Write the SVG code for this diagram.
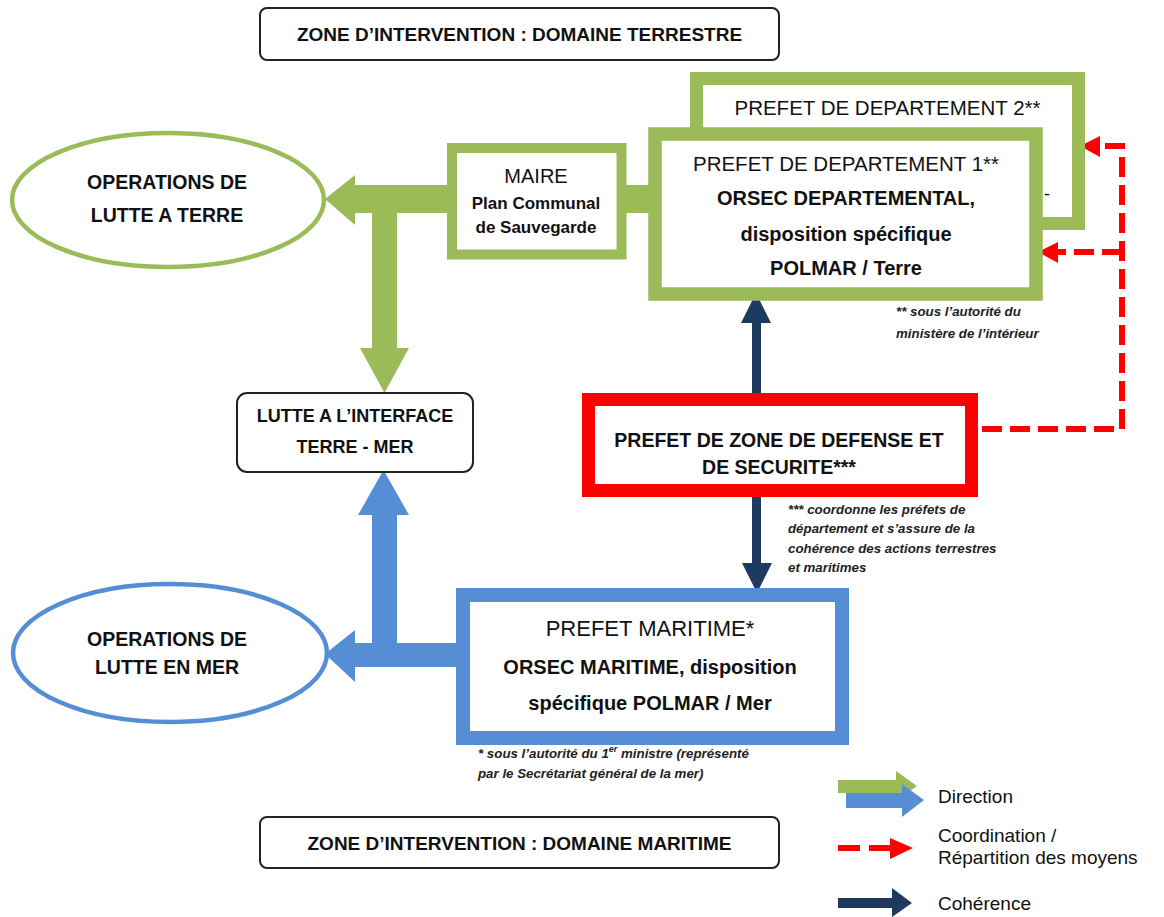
<svg xmlns="http://www.w3.org/2000/svg" width="1164" height="917" viewBox="0 0 1164 917">
<style>
text{font-family:"Liberation Sans",Arial,sans-serif;fill:#111;text-anchor:middle}
.b{font-weight:bold}
.n{font-weight:normal}
.fn{font-weight:bold;font-style:italic;font-size:13.3px;text-anchor:start;fill:#222}
.lg{font-size:19px;text-anchor:start}
.zone{fill:#fff;stroke:#222;stroke-width:2}
.g{fill:#9BBB59}
.bl{fill:#558ED5}
.nv{fill:#1F3A60}
.rd{fill:#FF0000}
.dash{fill:none;stroke:#FF0000;stroke-width:6;stroke-dasharray:20 8}
</style>

<g id="zone-terrestre">
<rect class="zone" x="260" y="8" width="519" height="52" rx="7"/>
<text class="b" x="519.5" y="41" font-size="19">ZONE D’INTERVENTION : DOMAINE TERRESTRE</text>
</g>
<g id="zone-maritime">
<rect class="zone" x="260" y="817" width="519" height="51" rx="7"/>
<text class="b" x="519.5" y="850" font-size="19">ZONE D’INTERVENTION : DOMAINE MARITIME</text>
</g>

<g id="connectors">
<!-- green direction -->
<rect class="g" x="354" y="185" width="296" height="28"/>
<polygon class="g" points="355,175 325,199 355,225"/>
<rect class="g" x="372" y="212" width="25" height="137"/>
<polygon class="g" points="360,348 409,348 384.5,393"/>
<!-- blue direction -->
<rect class="bl" x="354" y="643" width="102" height="24"/>
<polygon class="bl" points="355,630 325,654 355,682"/>
<rect class="bl" x="372" y="514" width="25" height="153"/>
<polygon class="bl" points="358,515 409,515 383.5,470"/>
<!-- navy coherence -->
<rect class="nv" x="752" y="322" width="9" height="72"/>
<polygon class="nv" points="741,323 771,323 756,293"/>
<rect class="nv" x="752" y="496" width="9" height="68"/>
<polygon class="nv" points="742,563 772,563 757,593"/>
<!-- red coordination -->
<path class="dash" d="M982 429 H1122 V146 H1100"/>
<path class="dash" d="M1122 252 H1058"/>
<polygon class="rd" points="1100,136 1080,146 1100,157"/>
<polygon class="rd" points="1058,242 1038,252 1058,263"/>
</g>

<g id="ops-terre">
<ellipse cx="168" cy="200" rx="156" ry="67" fill="#fff" stroke="#9BBB59" stroke-width="4.5"/>
<text class="b" x="167" y="189" font-size="19.5">OPERATIONS DE</text>
<text class="b" x="167" y="222" font-size="19.5">LUTTE A TERRE</text>
</g>

<g id="ops-mer">
<ellipse cx="170" cy="653" rx="157" ry="69" fill="#fff" stroke="#558ED5" stroke-width="4.5"/>
<text class="b" x="167" y="646" font-size="19.5">OPERATIONS DE</text>
<text class="b" x="167" y="674" font-size="19.5">LUTTE EN MER</text>
</g>

<g id="maire">
<rect x="452" y="148" width="169.5" height="106.5" fill="#fff" stroke="#9BBB59" stroke-width="10"/>
<text class="n" x="536" y="183" font-size="20">MAIRE</text>
<text class="b" x="536" y="209" font-size="17">Plan Communal</text>
<text class="b" x="536" y="233" font-size="17">de Sauvegarde</text>
</g>

<g id="lutte-interface">
<rect x="237" y="393" width="236" height="79" rx="10" fill="#fff" stroke="#222" stroke-width="2"/>
<text class="b" x="355" y="421.5" font-size="18">LUTTE A L’INTERFACE</text>
<text class="b" x="355" y="452.5" font-size="18">TERRE - MER</text>
</g>

<g id="prefet-dept-2">
<rect x="696.5" y="78.5" width="382" height="145" fill="#fff" stroke="#9BBB59" stroke-width="13"/>
<text class="n" x="887.5" y="115" font-size="20.5">PREFET DE DEPARTEMENT 2**</text>
<text class="n" x="1047" y="200" font-size="18">-</text>
</g>

<g id="prefet-dept-1">
<rect x="655" y="134" width="381" height="160" fill="#fff" stroke="#9BBB59" stroke-width="13.5"/>
<text class="n" x="846" y="171" font-size="20.5">PREFET DE DEPARTEMENT 1**</text>
<text class="b" x="846" y="205" font-size="20">ORSEC DEPARTEMENTAL,</text>
<text class="b" x="846" y="241" font-size="20">disposition spécifique</text>
<text class="b" x="846" y="275" font-size="20">POLMAR / Terre</text>
<text class="fn" x="896" y="316">** sous l’autorité du</text>
<text class="fn" x="896" y="338">ministère de l’intérieur</text>
</g>

<g id="prefet-zone-defense">
<rect x="588.5" y="399.5" width="383" height="91" fill="#fff" stroke="#FF0000" stroke-width="13"/>
<text class="b" x="779" y="447" font-size="19.5">PREFET DE ZONE DE DEFENSE ET</text>
<text class="b" x="779" y="474" font-size="19.5">DE SECURITE***</text>
<text class="fn" x="788" y="514">*** coordonne les préfets de</text>
<text class="fn" x="788" y="533">département et s’assure de la</text>
<text class="fn" x="788" y="553">cohérence des actions terrestres</text>
<text class="fn" x="788" y="572">et maritimes</text>
</g>

<g id="prefet-maritime">
<rect x="463" y="595" width="379" height="143" fill="#fff" stroke="#558ED5" stroke-width="14"/>
<text class="n" x="650" y="636" font-size="22">PREFET MARITIME*</text>
<text class="b" x="650" y="674" font-size="20">ORSEC MARITIME, disposition</text>
<text class="b" x="650" y="710" font-size="20">spécifique POLMAR / Mer</text>
<text class="fn" x="478" y="758">* sous l’autorité du 1<tspan font-size="9" dy="-6">er</tspan><tspan dy="6"> ministre (représenté</tspan></text>
<text class="fn" x="478" y="778">par le Secrétariat général de la mer)</text>
</g>

<g id="legend">
<polygon class="g" points="838,780 896,780 896,771 917,786 896,801 896,793 838,793"/>
<polygon class="bl" points="846,793 902,793 902,784 924,800 902,817 902,808 846,808"/>
<text class="lg" x="938" y="803">Direction</text>
<rect class="rd" x="838" y="845" width="22" height="6"/>
<rect class="rd" x="869" y="845" width="21" height="6"/>
<polygon class="rd" points="890,838 913,848 890,859"/>
<text class="lg" x="938" y="842">Coordination /</text>
<text class="lg" x="938" y="864">Répartition des moyens</text>
<polygon class="nv" points="838,898 892,898 892,888 912,903 892,917 892,908 838,908"/>
<text class="lg" x="938" y="910">Cohérence</text>
</g>
</svg>
